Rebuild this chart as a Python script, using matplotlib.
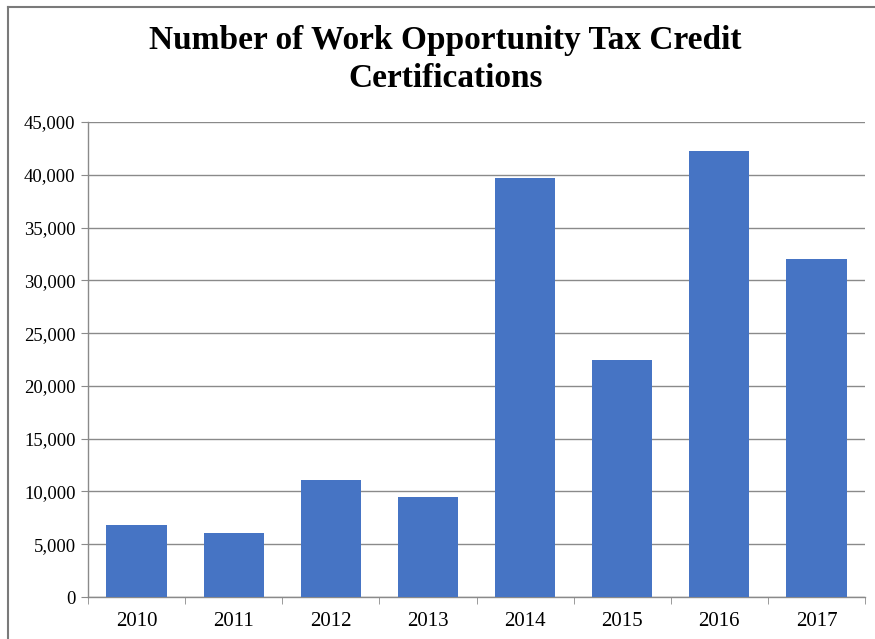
import matplotlib.pyplot as plt
from matplotlib.lines import Line2D
from matplotlib.ticker import FuncFormatter, MultipleLocator
import numpy as np

years = ["2010", "2011", "2012", "2013", "2014", "2015", "2016", "2017"]
certifications = [6800, 6100, 11100, 9500, 39700, 22500, 42300, 32000]
title = "Number of Work Opportunity Tax Credit\nCertifications"

plt.rcParams["font.family"] = ["Liberation Serif", "DejaVu Serif"]

fig = plt.figure(figsize=(8.75, 6.39), dpi=100)
ax = fig.add_axes([0.1006, 0.0657, 0.888, 0.7433])

x = np.arange(len(years))
ax.bar(x, certifications, width=0.62, color="#4674c4", zorder=3)

ax.set_xlim(-0.5, len(years) - 0.5)
ax.set_ylim(0, 45000)
ax.yaxis.set_major_locator(MultipleLocator(5000))
ax.yaxis.set_major_formatter(FuncFormatter(lambda v, _: f"{v:,.0f}"))
ax.grid(axis="y", color="#8a8a8a", linewidth=1.0, zorder=0)

ax.set_xticks(x)
ax.set_xticklabels(years, fontsize=15)
ax.set_xticks(np.arange(-0.5, len(years)), minor=True)
ax.tick_params(axis="x", which="major", length=0, pad=11)
ax.tick_params(axis="x", which="minor", length=5, color="#8a8a8a")
ax.tick_params(axis="y", labelsize=13.5, length=5, color="#8a8a8a", pad=4)

for side in ("top", "right"):
    ax.spines[side].set_visible(False)
for side in ("left", "bottom"):
    ax.spines[side].set_color("#8a8a8a")
    ax.spines[side].set_linewidth(1.0)

fig.text(0.509, 0.907, title, ha="center", va="center", fontsize=24,
         fontweight="bold", linespacing=1.3)

# thin frame along the left and top edges of the figure
fig.add_artist(Line2D([8 / 875, 8 / 875], [1 - 7 / 639, 0], color="#7a7a7a", linewidth=1.5))
fig.add_artist(Line2D([8 / 875, 1], [1 - 7 / 639, 1 - 7 / 639], color="#7a7a7a", linewidth=1.5))

fig.savefig("out.png", dpi=100)
